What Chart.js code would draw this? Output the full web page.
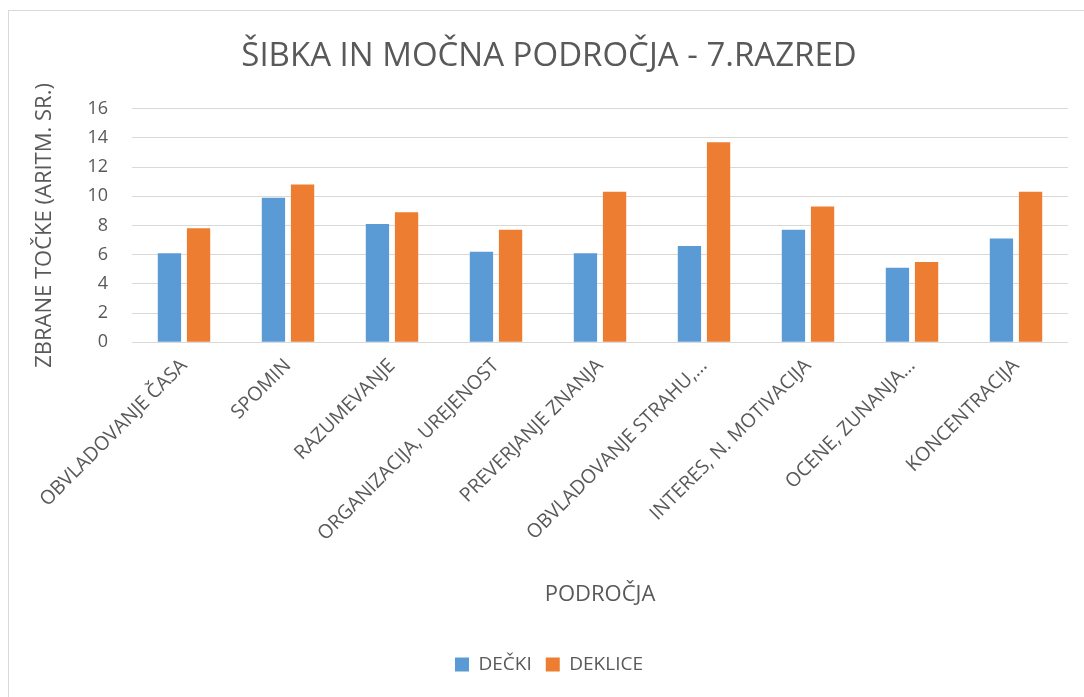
<!DOCTYPE html>
<html>
<head>
<meta charset="utf-8">
<script src="https://cdn.jsdelivr.net/npm/chart.js@4"></script>
<style>
  html, body { margin: 0; padding: 0; background: #fff; }
  #wrap { width: 1084px; height: 697px; position: relative; }
</style>
</head>
<body>
<div id="wrap"><canvas id="grafico"></canvas></div>
<script>
const kategorije = [
    "OBVLADOVANJE ČASA",
    "SPOMIN",
    "RAZUMEVANJE",
    "ORGANIZACIJA, UREJENOST",
    "PREVERJANJE ZNANJA",
    "OBVLADOVANJE STRAHU,…",
    "INTERES, N. MOTIVACIJA",
    "OCENE, ZUNANJA…",
    "KONCENTRACIJA"
];
const decki   = [6.1, 9.9, 8.1, 6.2, 6.1, 6.6, 7.7, 5.1, 7.1];
const deklice = [7.8, 10.8, 8.9, 7.7, 10.3, 13.7, 9.3, 5.5, 10.3];
const yMax = 16;
const yKorak = 2;

const sivo = "#595959";
const pisava = "'Open Sans', sans-serif";

// okvir grafikona (kot v Excelu)
const okvir = {
    id: "okvir",
    beforeDraw(chart) {
        const ctx = chart.ctx;
        ctx.save();
        ctx.strokeStyle = "#D9D9D9";
        ctx.lineWidth = 1;
        ctx.strokeRect(8.5, 10.5, 2000, 2000);
        ctx.restore();
    }
};

const ctx = document.getElementById("grafico").getContext("2d");

new Chart(ctx, {
    type: "bar",
    data: {
        labels: kategorije,
        datasets: [
            {
                label: "DEČKI",
                data: decki,
                backgroundColor: "#5B9BD5",
                categoryPercentage: 0.56,
                barPercentage: 0.8
            },
            {
                label: "DEKLICE",
                data: deklice,
                backgroundColor: "#ED7D31",
                categoryPercentage: 0.56,
                barPercentage: 0.8
            }
        ]
    },
    options: {
        responsive: true,
        maintainAspectRatio: false,
        animation: false,
        layout: { padding: { left: 30, right: 16, top: 0, bottom: 13 } },
        plugins: {
            title: {
                display: true,
                text: "ŠIBKA IN MOČNA PODROČJA - 7.RAZRED",
                color: sivo,
                font: { family: pisava, size: 33, weight: "normal" },
                padding: { top: 37, bottom: 32 }
            },
            legend: {
                position: "bottom",
                labels: {
                    color: sivo,
                    font: { family: pisava, size: 19 },
                    boxWidth: 14,
                    boxHeight: 14,
                    padding: 14
                }
            },
            tooltip: { enabled: false }
        },
        scales: {
            x: {
                grid: { display: false },
                border: { display: false },
                ticks: {
                    color: sivo,
                    font: { family: pisava, size: 19.5 },
                    minRotation: 45,
                    maxRotation: 45,
                    autoSkip: false,
                    padding: 4
                },
                title: {
                    display: true,
                    text: "PODROČJA",
                    color: sivo,
                    font: { family: pisava, size: 22 },
                    padding: { top: 32, bottom: 33 }
                }
            },
            y: {
                min: 0,
                max: yMax,
                afterFit(scale) { scale.width = 102; },
                grid: { color: "#D9D9D9", drawTicks: false },
                border: { display: false },
                ticks: {
                    stepSize: yKorak,
                    color: sivo,
                    font: { family: pisava, size: 18 },
                    padding: 24
                },
                title: {
                    display: true,
                    text: "ZBRANE TOČKE (ARITM. SR.)",
                    color: sivo,
                    font: { family: pisava, size: 22 },
                    padding: { top: 2, bottom: 10 }
                }
            }
        }
    },
    plugins: [okvir]
});
</script>
</body>
</html>
